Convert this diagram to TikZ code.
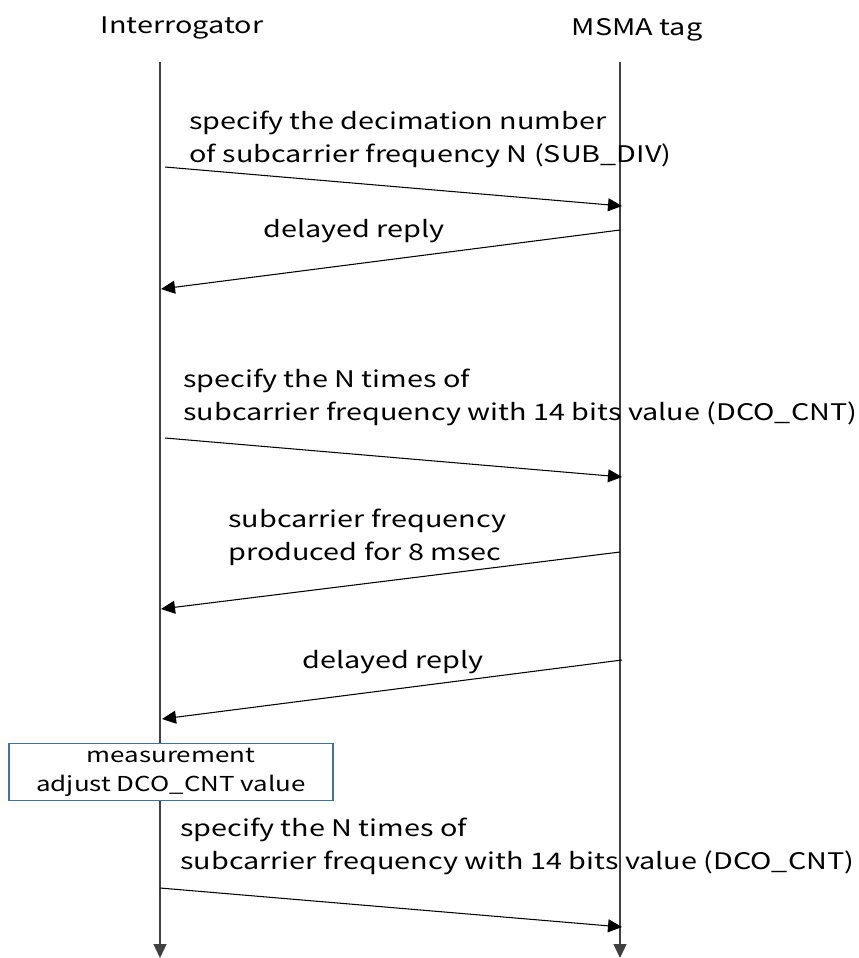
\documentclass[tikz,border=0pt]{standalone}
\usepackage{fontspec}
\setmainfont[FakeStretch=1.26]{Noto Sans CJK JP}
\usetikzlibrary{arrows.meta}
\definecolor{boxblue}{RGB}{65,113,156}

\begin{document}
\begin{tikzpicture}[x=0.02cm, y=-0.02cm,
  >={Triangle[length=2.8mm,width=2.6mm]},
  every node/.style={font=\fontsize{13}{18.4}\selectfont, inner sep=0pt},
  msg/.style={->, line width=0.6pt},
  life/.style={->, line width=0.7pt, black!75},
  lbl/.style={anchor=base west, align=left},
  stepbox/.style={draw=boxblue, line width=1.1pt, fill=white, align=center,
    minimum width=6.48cm, minimum height=1.14cm,
    font=\fontsize{11.7}{16.5}\selectfont}]
  \useasboundingbox (0,0) rectangle (859,958);
  % lifelines
  \node (intr) at (182,28) {Interrogator};
  \node (tag) at (637,30) {MSMA tag};
  \coordinate (intrtop) at (160,62);
  \coordinate (intrend) at (160,958);
  \coordinate (tagtop) at (620,62);
  \coordinate (tagend) at (620,958);
  \draw[life] (intrtop) -- (intrend);
  \draw[life] (tagtop) -- (tagend);
  % message end points
  \coordinate (a1) at (165,167);  \coordinate (b1) at (622,206);
  \coordinate (b2) at (620,230);  \coordinate (a2) at (161,289);
  \coordinate (a3) at (165,438);  \coordinate (b3) at (622,477);
  \coordinate (b4) at (620,552);  \coordinate (a4) at (161,609);
  \coordinate (b5) at (622,660);  \coordinate (a5) at (162,719);
  \coordinate (a6) at (160,888);  \coordinate (b6) at (622,927);
  % messages
  \draw[msg] (a1) -- (b1);
  \draw[msg] (b2) -- (a2);
  \draw[msg] (a3) -- (b3);
  \draw[msg] (b4) -- (a4);
  \draw[msg] (b5) -- (a5);
  \draw[msg] (a6) -- (b6);
  % labels (base = last line)
  \node[lbl] (l1) at (189,162) {specify the decimation number\\of subcarrier frequency N (SUB\_DIV)};
  \node[lbl] (l2) at (263,237) {delayed reply};
  \node[lbl] (l3) at (183,420) {specify the N times of\\subcarrier frequency with 14 bits value (DCO\_CNT)};
  \node[lbl] (l4) at (228,560) {subcarrier frequency\\produced for 8 msec};
  \node[lbl] (l5) at (302,668) {delayed reply};
  \node[stepbox] (meas) at (171,772) {measurement\\adjust DCO\_CNT value};
  \node[lbl] (l6) at (180,869) {specify the N times of\\subcarrier frequency with 14 bits value (DCO\_CNT)};
\end{tikzpicture}
\end{document}
